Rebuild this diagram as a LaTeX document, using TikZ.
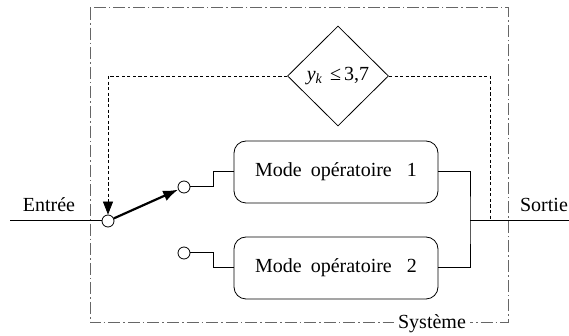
\documentclass[tikz,border=0pt]{standalone}
\usepackage{fontspec}
\setmainfont{Liberation Serif}
\usetikzlibrary{shapes.geometric,arrows.meta}

\begin{document}
\begin{tikzpicture}[
    x=0.5pt, y=-0.5pt,
    mode_style/.style={rectangle, draw, rounded corners=6pt, minimum width=102pt, minimum height=31pt, inner sep=0pt},
    contact/.style={circle, draw, fill=white, minimum size=6pt, inner sep=0pt},
    sys/.style={draw=black!60, line width=0.5pt, dash pattern=on 6pt off 1.5pt on 0.8pt off 1.5pt},
    fb/.style={line width=0.4pt, dash pattern=on 1.6pt off 1.2pt},
    wire/.style={line width=0.5pt}
]
\useasboundingbox (0,0) rectangle (569,336);

% Systeme
\draw[sys] (90,8) rectangle (508,323);
\node[fill=white, inner sep=2pt] (syslab) at (432,324) {Système};

% Test
\node[diamond, draw, minimum width=50.5pt, minimum height=50pt, inner sep=0pt] (cond) at (338,76)
    {\textit{y}\textsubscript{\textit{k}}\hspace{3.5pt}≤\hspace{1.5pt}3,7};

% Modes
\node[mode_style] (m1) at (336,172) {Mode\hspace{4.5pt}opératoire\hspace{7.5pt}1};
\node[mode_style] (m2) at (336,268) {Mode\hspace{4.5pt}opératoire\hspace{7.5pt}2};

% Commutateur
\coordinate (in) at (10,221);
\coordinate (out) at (569,221);
\coordinate (join) at (470,221);
\coordinate (fbr) at (490,221);
\node[contact] (piv) at (108,221) {};
\node[contact] (c1) at (184,187) {};
\node[contact] (c2) at (184,253) {};

\draw[wire] (in) -- (piv.west);
\draw[line width=1.1pt, -{Latex[length=7.5pt, width=5.5pt]}] (piv) -- (c1);
\draw[wire] (c1.east) -- ++(23,0) |- (m1.west);
\draw[wire] (c2.east) -- ++(23,0) |- (m2.west);

% Sortie
\draw[wire] (m1.east) -| (join) |- (m2.east);
\draw[wire] (join) -- (out);

% Retour
\draw[fb] (cond.east) -| (fbr);
\draw[fb, -{Triangle[length=6.5pt, width=5pt]}] (cond.west) -| (piv.north);

% Labels
\node (entree) at (49,205) {Entrée};
\node (sortie) at (544,205) {Sortie};
\end{tikzpicture}
\end{document}
